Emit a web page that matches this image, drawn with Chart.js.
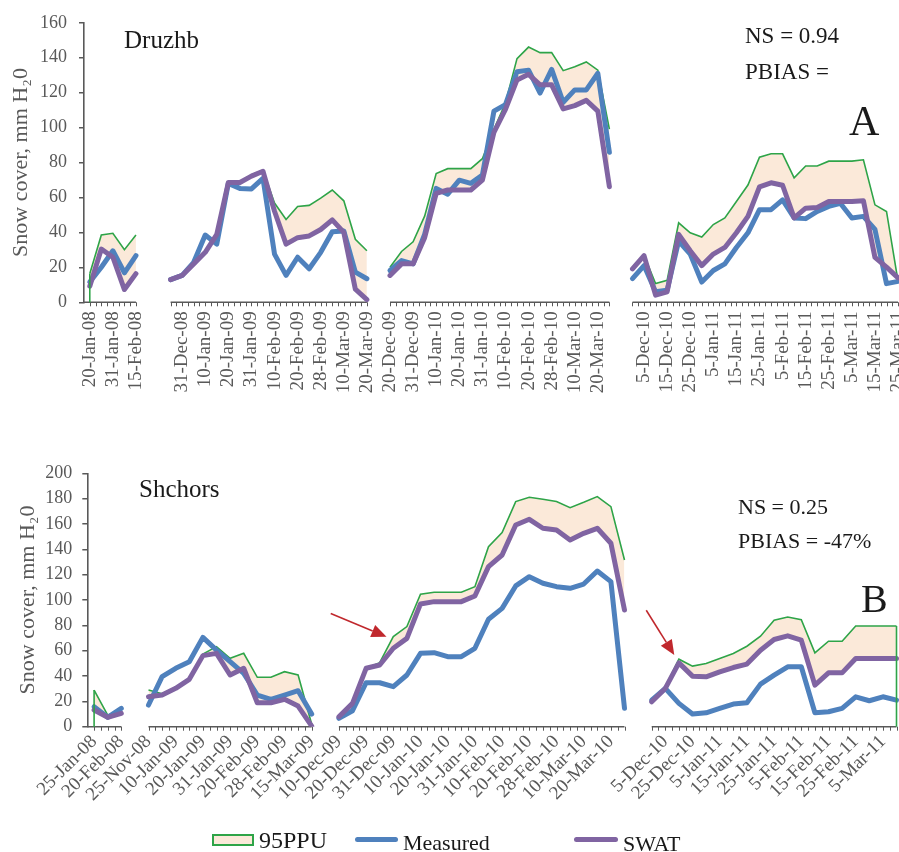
<!DOCTYPE html>
<html>
<head>
<meta charset="utf-8">
<script src="https://cdn.jsdelivr.net/npm/chart.js@4.4.1/dist/chart.umd.min.js"></script>
<style>
  html, body { margin: 0; padding: 0; background: #fff; overflow: hidden; width: 899px; height: 852px; }
  #wrap { position: relative; width: 899px; height: 852px; overflow: hidden; }
  canvas { position: absolute; left: 0; }
  .t { position: absolute; font-family: "Liberation Serif", "Times New Roman", serif; line-height: 1; white-space: nowrap; color: #1a1a1a; z-index: 2; }
  .key { position: absolute; z-index: 2; }
</style>
</head>
<body>
<div id="wrap">
  <canvas id="chartA" width="930" height="410" style="top:0"></canvas>
  <canvas id="chartB" width="930" height="400" style="top:440px"></canvas>

  <div class="t" style="left:124px; top:27px; font-size:25px;">Druzhb</div>
  <div class="t" style="left:745px; top:24px; font-size:23px;">NS = 0.94</div>
  <div class="t" style="left:745px; top:60px; font-size:23px;">PBIAS =</div>
  <div class="t" style="left:849px; top:100px; font-size:42px;">A</div>

  <div class="t" style="left:139px; top:476px; font-size:25px;">Shchors</div>
  <div class="t" style="left:738px; top:496px; font-size:22px;">NS = 0.25</div>
  <div class="t" style="left:738px; top:530px; font-size:22px;">PBIAS = -47%</div>
  <div class="t" style="left:861px; top:579px; font-size:40px;">B</div>

  <div class="key" style="left:212px; top:834px; width:38px; height:8px; border:2px solid #2ea448; background:#fbe9d9;"></div>
  <div class="t" style="left:259px; top:828px; font-size:24px;">95PPU</div>
  <div class="key" style="left:355px; top:837px; width:43px; height:5px; border-radius:3px; background:#4f81bd;"></div>
  <div class="t" style="left:403px; top:832px; font-size:22px;">Measured</div>
  <div class="key" style="left:574px; top:837px; width:44px; height:5px; border-radius:3px; background:#8064a2;"></div>
  <div class="t" style="left:623px; top:833px; font-size:22px;">SWAT</div>
</div>

<script>
// ---------- Druzhb (panel A) ----------
const druzhbDates = [
  '20-Jan-08','25-Jan-08','31-Jan-08','5-Feb-08','15-Feb-08',
  '', '',
  '25-Dec-08','31-Dec-08','5-Jan-09','10-Jan-09','15-Jan-09','20-Jan-09','25-Jan-09','31-Jan-09','5-Feb-09',
  '10-Feb-09','15-Feb-09','20-Feb-09','25-Feb-09','28-Feb-09','5-Mar-09','10-Mar-09','15-Mar-09','20-Mar-09',
  '',
  '20-Dec-09','25-Dec-09','31-Dec-09','5-Jan-10','10-Jan-10','15-Jan-10','20-Jan-10','25-Jan-10','31-Jan-10','5-Feb-10',
  '10-Feb-10','15-Feb-10','20-Feb-10','25-Feb-10','28-Feb-10','5-Mar-10','10-Mar-10','15-Mar-10','20-Mar-10','25-Mar-10',
  '',
  '30-Nov-10','5-Dec-10','10-Dec-10','15-Dec-10','20-Dec-10','25-Dec-10','31-Dec-10','5-Jan-11','10-Jan-11','15-Jan-11',
  '20-Jan-11','25-Jan-11','31-Jan-11','5-Feb-11','10-Feb-11','15-Feb-11','20-Feb-11','25-Feb-11','28-Feb-11','5-Mar-11',
  '10-Mar-11','15-Mar-11','20-Mar-11','25-Mar-11'
];
const druzhbTickLabels = [
  '20-Jan-08','31-Jan-08','15-Feb-08',
  '31-Dec-08','10-Jan-09','20-Jan-09','31-Jan-09','10-Feb-09','20-Feb-09','28-Feb-09','10-Mar-09','20-Mar-09',
  '20-Dec-09','31-Dec-09','10-Jan-10','20-Jan-10','31-Jan-10','10-Feb-10','20-Feb-10','28-Feb-10','10-Mar-10','20-Mar-10',
  '5-Dec-10','15-Dec-10','25-Dec-10','5-Jan-11','15-Jan-11','25-Jan-11','5-Feb-11','15-Feb-11','25-Feb-11','5-Mar-11','15-Mar-11','25-Mar-11'
];
const druzhbUpper95 = [
  16.3, 38.5, 39.5, 30.1, 38.5,
  null, null,
  13.5, 16, 23, 29.5, 39.5, 69, 69, 73, 75.5, 56.8, 47.4, 54.9, 55.5, 59.6, 64.3, 58.1, 36.1, 29.5,
  null,
  20.1, 29.1, 34.6, 49.3, 73.7, 76.5, 76.5, 76.5, 82.2, 99, 114.1, 139.5, 146.1, 142.9, 142.9, 132.6, 134.8, 137.6, 132.9, 99.1,
  null,
  20, 27, 10.7, 12.6, 45.5, 39.8, 37.4, 44.5, 48.3, 57.7, 67.1, 83.1, 85, 85, 71.2, 78, 78, 80.8, 80.8, 80.8, 81.6, 55.8, 52, 12
];
const druzhbMeasured = [
  11.6, 20.1, 29.5, 16.9, 26.7,
  null, null,
  13, 15.4, 22.9, 38.5, 33.3, 68.1, 65.2, 64.9, 70.9, 27.6, 15.4, 25.8, 19.2, 28.6, 40.4, 40.8, 17.3, 13.5,
  null,
  18.2, 23.9, 22, 38.9, 65.2, 61.9, 69.9, 68.1, 72.8, 109.4, 113.2, 132, 132.9, 119.8, 133.3, 114.5, 121.6, 121.6, 131.1, 85.9,
  null,
  13.5, 21, 6, 6.9, 35.1, 27.6, 11.6, 18.2, 22, 31.4, 39.8, 53, 53, 58.6, 48.3, 47.9, 52, 54.9, 56.7, 48.3, 49.2, 41.7, 10.7, 12
];
const druzhbSwat = [
  9.2, 30.5, 25.8, 7.3, 16.4,
  null, null,
  13, 15.4, 22, 28.6, 38.9, 68.6, 68.6, 72.2, 75, 52.1, 33.3, 37, 38, 41.7, 47.2, 40, 7.5, 1.5,
  null,
  15.4, 22, 22, 37, 62.4, 64.3, 64.3, 64.3, 69.9, 97.2, 110.4, 127.3, 130.5, 124.5, 124.5, 110.7, 112.6, 115.6, 109.4, 66.2,
  null,
  19.1, 26.7, 4.1, 6, 38.9, 29.5, 21, 27.6, 31.4, 39.8, 49.2, 66.1, 68.4, 67, 48.3, 53.9, 54.3, 57.7, 57.7, 57.7, 58.1, 25.7, 20.1, 14
];
const druzhbTicksY = [0, 20, 40, 60, 80, 100, 120, 140, 160];

// ---------- Shchors (panel B) ----------
const shchorsDates = [
  '25-Jan-08','10-Feb-08','20-Feb-08',
  '',
  '25-Nov-08','31-Dec-08','10-Jan-09','15-Jan-09','20-Jan-09','25-Jan-09','31-Jan-09','10-Feb-09','20-Feb-09',
  '25-Feb-09','28-Feb-09','10-Mar-09','15-Mar-09',
  '',
  '10-Dec-09','15-Dec-09','20-Dec-09','25-Dec-09','31-Dec-09','5-Jan-10','10-Jan-10','15-Jan-10','20-Jan-10','25-Jan-10',
  '31-Jan-10','5-Feb-10','10-Feb-10','15-Feb-10','20-Feb-10','25-Feb-10','28-Feb-10','5-Mar-10','10-Mar-10','15-Mar-10',
  '20-Mar-10','25-Mar-10',
  '',
  '30-Nov-10','5-Dec-10','15-Dec-10','25-Dec-10','31-Dec-10','5-Jan-11','10-Jan-11','15-Jan-11','20-Jan-11','25-Jan-11',
  '31-Jan-11','5-Feb-11','10-Feb-11','15-Feb-11','20-Feb-11','25-Feb-11','28-Feb-11','5-Mar-11','10-Mar-11'
];
const shchorsTickLabels = [
  '25-Jan-08','20-Feb-08',
  '25-Nov-08','10-Jan-09','20-Jan-09','31-Jan-09','20-Feb-09','28-Feb-09','15-Mar-09',
  '10-Dec-09','20-Dec-09','31-Dec-09','10-Jan-10','20-Jan-10','31-Jan-10','10-Feb-10','20-Feb-10','28-Feb-10','10-Mar-10','20-Mar-10',
  '5-Dec-10','25-Dec-10','5-Jan-11','15-Jan-11','25-Jan-11','5-Feb-11','15-Feb-11','25-Feb-11','5-Mar-11'
];
const shchorsUpper95 = [
  28.9, 9.2, 12,
  null,
  28.9, 26, 31, 38, 57.4, 63.2, 54, 57.9, 39, 39, 43.4, 40.8, 2,
  null,
  7.9, 18.4, 46.1, 50.5, 71.1, 79, 104.5, 106.1, 106.1, 106.1, 110.5, 142.1, 153.2, 177.7, 181.1, 179.5, 177.7, 172.9,
  177.1, 181.6, 173.7, 131.6,
  null,
  19.7, 31.5, 53.3, 47.8, 49.9, 53.8, 57.8, 63.5, 71.4, 84, 86.6, 84.5, 58.3, 67.5, 67.5, 79.5, 79.5, 79.5, 79.5
];
const shchorsMeasured = [
  15.8, 7.4, 14.5,
  null,
  17.1, 39.5, 46.1, 51.3, 70.5, 60.5, 51.3, 42.1, 25, 21.6, 25, 28.4, 10,
  null,
  6.6, 12.6, 34.7, 34.7, 31.6, 40.8, 57.9, 58.4, 55.3, 55.3, 61.9, 84.8, 93.4, 111.1, 118.4, 113.2, 110.5, 109.2,
  112.6, 122.9, 114.5, 14.5,
  null,
  21, 30.2, 18.4, 10, 11, 14.5, 17.9, 18.9, 33.6, 40.7, 47.3, 47.3, 11, 11.8, 14.5, 23.6, 20.5, 23.6, 21
];
const shchorsSwat = [
  13.2, 7.4, 10.5,
  null,
  23.7, 25, 30.3, 37.4, 56.1, 57.9, 40.8, 46.1, 18.9, 18.9, 21.6, 16.3, 0.5,
  null,
  7.9, 18.4, 46.1, 48.7, 61.9, 69.7, 96.9, 98.7, 98.7, 98.7, 103.2, 126.3, 135.5, 159.2, 163.7, 156.6, 155.3, 147.4,
  152.6, 156.6, 144.8, 92.1,
  null,
  19.7, 30.2, 50.4, 39.9, 39.4, 43.3, 46.7, 49.4, 60.4, 68.8, 71.7, 68.3, 32.8, 42.5, 42.5, 53.8, 53.8, 53.8, 53.8
];
const shchorsTicksY = [0, 20, 40, 60, 80, 100, 120, 140, 160, 180, 200];

// ---------- styling ----------
const SERIF = '"Liberation Serif", "Times New Roman", serif';
const GREY = '#595959';
const BAND_LINE = '#2ea448';
const BAND_FILL = '#fbe9d9';
const BLUE = '#4f81bd';
const PURPLE = '#8064a2';
const ARROW_RED = '#c0282d';

// Broken x axis: one baseline with half-step tick marks per season of data.
const seasonAxis = {
  id: 'seasonAxis',
  beforeDatasetsDraw(chart, args, opts) {
    const { ctx, chartArea } = chart;
    const x = chart.scales.x;
    const cats = chart.data.labels;
    const runs = [];
    let start = null;
    cats.forEach((c, i) => {
      if (c) { if (start === null) start = i; }
      else if (start !== null) { runs.push([start, i - 1]); start = null; }
    });
    if (start !== null) runs.push([start, cats.length - 1]);
    const y = chartArea.bottom;
    ctx.save();
    ctx.strokeStyle = opts.color;
    runs.forEach(([a, b], k) => {
      const x0 = k === 0 ? chartArea.left : x.getPixelForValue(a);
      const x1 = x.getPixelForValue(b);
      ctx.lineWidth = 1.6;
      ctx.beginPath();
      ctx.moveTo(x0, y); ctx.lineTo(x1, y);
      ctx.stroke();
      ctx.lineWidth = 1;
      ctx.beginPath();
      for (let v = a; v <= b + 1e-6; v += 0.5) {
        const px = Math.round(x.getPixelForValue(v)) + 0.5;
        ctx.moveTo(px, y); ctx.lineTo(px, y + opts.tick);
      }
      ctx.stroke();
    });
    ctx.restore();
  }
};

// Vertical closing edges of the 95PPU band outline.
const bandEdges = {
  id: 'bandEdges',
  afterDatasetsDraw(chart, args, opts) {
    if (!opts.indices) return;
    const { ctx } = chart;
    const { x, y } = chart.scales;
    const upper = chart.data.datasets[0].data;
    ctx.save();
    ctx.strokeStyle = BAND_LINE;
    ctx.lineWidth = 1.6;
    opts.indices.forEach(i => {
      const px = x.getPixelForValue(i);
      ctx.beginPath();
      ctx.moveTo(px, y.getPixelForValue(upper[i]));
      ctx.lineTo(px, y.getPixelForValue(0));
      ctx.stroke();
    });
    ctx.restore();
  }
};

// Red call-out arrows, placed in data units.
const calloutArrows = {
  id: 'calloutArrows',
  afterDatasetsDraw(chart, args, opts) {
    if (!opts.items) return;
    const { ctx } = chart;
    const { x, y } = chart.scales;
    ctx.save();
    ctx.strokeStyle = ARROW_RED;
    ctx.fillStyle = ARROW_RED;
    ctx.lineWidth = 1.6;
    opts.items.forEach(a => {
      const x0 = x.getPixelForValue(a.from[0]), y0 = y.getPixelForValue(a.from[1]);
      const x1 = x.getPixelForValue(a.to[0]), y1 = y.getPixelForValue(a.to[1]);
      const ang = Math.atan2(y1 - y0, x1 - x0);
      const headLen = 15, headHalf = 6.5;
      const bx = x1 - headLen * Math.cos(ang), by = y1 - headLen * Math.sin(ang);
      ctx.beginPath();
      ctx.moveTo(x0, y0); ctx.lineTo(bx, by);
      ctx.stroke();
      ctx.beginPath();
      ctx.moveTo(x1, y1);
      ctx.lineTo(bx + headHalf * Math.sin(ang), by - headHalf * Math.cos(ang));
      ctx.lineTo(bx - headHalf * Math.sin(ang), by + headHalf * Math.cos(ang));
      ctx.closePath();
      ctx.fill();
    });
    ctx.restore();
  }
};

function makeDatasets(upper, measured, swat) {
  return [
    {
      label: '95PPU', data: upper, borderColor: BAND_LINE, borderWidth: 1.6,
      fill: { target: 2, above: BAND_FILL, below: 'rgba(0,0,0,0)' },
      pointRadius: 0, tension: 0, order: 3, spanGaps: false
    },
    {
      label: 'Measured', data: measured, borderColor: BLUE, borderWidth: 5,
      borderJoinStyle: 'round', borderCapStyle: 'round',
      pointRadius: 0, tension: 0, order: 2, fill: false, spanGaps: false
    },
    {
      label: 'SWAT', data: swat, borderColor: PURPLE, borderWidth: 5,
      borderJoinStyle: 'round', borderCapStyle: 'round',
      pointRadius: 0, tension: 0, order: 1, fill: false, spanGaps: false
    }
  ];
}

function makeChart(id, cfg) {
  return new Chart(document.getElementById(id), {
    type: 'line',
    data: { labels: cfg.dates, datasets: makeDatasets(cfg.upper, cfg.measured, cfg.swat) },
    options: {
      responsive: false,
      animation: false,
      devicePixelRatio: 1,
      layout: { padding: cfg.padding },
      plugins: {
        legend: { display: false },
        tooltip: { enabled: false },
        seasonAxis: { color: GREY, tick: 4 },
        bandEdges: { indices: cfg.edges },
        calloutArrows: { items: cfg.arrows }
      },
      scales: {
        x: {
          type: 'category',
          offset: true,
          grid: { display: false, drawTicks: false },
          border: { display: false },
          ticks: {
            autoSkip: false,
            minRotation: cfg.rotation,
            maxRotation: cfg.rotation,
            padding: cfg.xPad,
            color: GREY,
            font: { family: SERIF, size: 19 },
            callback: (v, i) => cfg.tickLabels.includes(cfg.dates[i]) ? cfg.dates[i] : ''
          },
          afterFit: s => { s.height = cfg.xHeight; }
        },
        y: {
          min: 0,
          max: cfg.ticksY[cfg.ticksY.length - 1],
          afterBuildTicks: s => { s.ticks = cfg.ticksY.map(v => ({ value: v })); },
          ticks: { padding: cfg.yPad, color: GREY, font: { family: SERIF, size: 18 } },
          grid: { drawOnChartArea: false, tickLength: 5, color: GREY, lineWidth: 1.5 },
          border: { color: GREY, width: 1.6 },
          title: {
            display: true,
            text: 'Snow cover, mm H\u20820',
            color: GREY,
            font: { family: SERIF, size: 22 },
            padding: { top: cfg.titlePad, bottom: 0 }
          },
          afterFit: s => { s.width = cfg.yWidth; }
        }
      }
    },
    plugins: [seasonAxis, bandEdges, calloutArrows]
  });
}

makeChart('chartA', {
  dates: druzhbDates, tickLabels: druzhbTickLabels,
  upper: druzhbUpper95, measured: druzhbMeasured, swat: druzhbSwat,
  ticksY: druzhbTicksY,
  padding: { top: 20, right: 21, bottom: 0, left: 0 },
  rotation: 90, xPad: 9, xHeight: 107.7,
  yWidth: 84, yPad: 12, titlePad: 8,
  edges: [0], arrows: []
});

makeChart('chartB', {
  dates: shchorsDates, tickLabels: shchorsTickLabels,
  upper: shchorsUpper95, measured: shchorsMeasured, swat: shchorsSwat,
  ticksY: shchorsTicksY,
  padding: { top: 33.3, right: 26.7, bottom: 0, left: 0 },
  rotation: 45, xPad: 4, xHeight: 113.3,
  yWidth: 87.3, yPad: 10, titlePad: 15,
  edges: [0, 59],
  arrows: [
    { from: [17.4, 89.3], to: [21.5, 70.9] },
    { from: [40.6, 91.9], to: [42.66, 56.5] }
  ]
});
</script>
</body>
</html>
